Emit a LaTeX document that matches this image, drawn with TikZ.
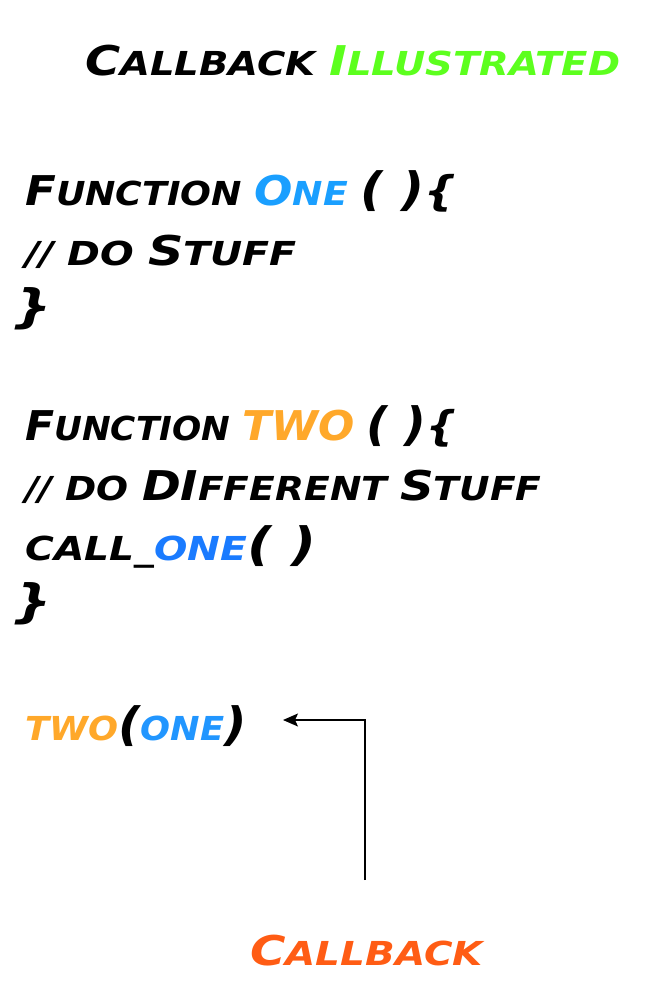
\documentclass[tikz,border=0pt]{standalone}
\usepackage{fontspec}
\usetikzlibrary{arrows.meta}
\setmainfont{DejaVu Sans}
\definecolor{tgreen}{HTML}{5CFF1E}
\definecolor{lblue}{HTML}{1A9FFF}
\definecolor{dblue}{HTML}{1A7BFF}
\definecolor{mblue}{HTML}{2196FF}
\definecolor{torange}{HTML}{FFA82A}
\definecolor{rorange}{HTML}{FF5C14}
\newcommand\Bg[1]{{\fontsize{41}{41}\selectfont #1}}
\newcommand\Pn[1]{{\fontsize{46}{46}\selectfont #1}}
\newcommand\Wd[2]{\scalebox{#1}[1]{#2}}
\tikzset{hand/.style={anchor=base west, inner sep=0pt, font=\fontsize{33}{33}\selectfont\bfseries\itshape},
  conn/.style={line width=1.3pt, -{Stealth[length=15pt,width=13pt,inset=3pt]}}}
\begin{document}
\begin{tikzpicture}[x=1pt,y=1pt]
\useasboundingbox (0,0) rectangle (649,-1002);
\node[hand] (title) at (85,-75) {\Wd{1.17}{\Bg{C}ALLBACK \textcolor{tgreen}{\Bg{I}LLUSTRATED}}};
\node[hand] (l1) at (25,-205) {\Wd{1.10}{\Bg{F}UNCTION \textcolor{lblue}{\Bg{O}NE} \Pn{( )}\Bg{\{}}};
\node[hand] (l2) at (25,-265) {\Wd{1.2}{// DO \Bg{S}TUFF}};
\node[hand] (l3) at (12,-322) {\Wd{1.2}{\Pn{\}}}};
\node[hand] (l4) at (25,-440) {\Wd{1.04}{\Bg{F}UNCTION \textcolor{torange}{\Bg{TWO}} \Pn{( )}\Bg{\{}}};
\node[hand] (l5) at (25,-500) {\Wd{1.14}{// DO \Bg{DI}FFERENT \Bg{S}TUFF}};
\node[hand] (l6) at (25,-560) {\Wd{1.19}{CALL\_\textcolor{dblue}{ONE}\Pn{( )}}};
\node[hand] (l7) at (12,-617) {\Wd{1.2}{\Pn{\}}}};
\node[hand] (call) at (25,-740) {\Wd{1.07}{\textcolor{torange}{TWO}\Pn{(}\textcolor{mblue}{ONE}\Pn{)}}};
\node[hand, text=rorange] (cb) at (250,-965) {\Wd{1.18}{\Bg{C}ALLBACK}};
\coordinate (s) at (365,-880);
\coordinate (t) at (283,-720);
\draw[conn] (s) |- (t);
\end{tikzpicture}
\end{document}
